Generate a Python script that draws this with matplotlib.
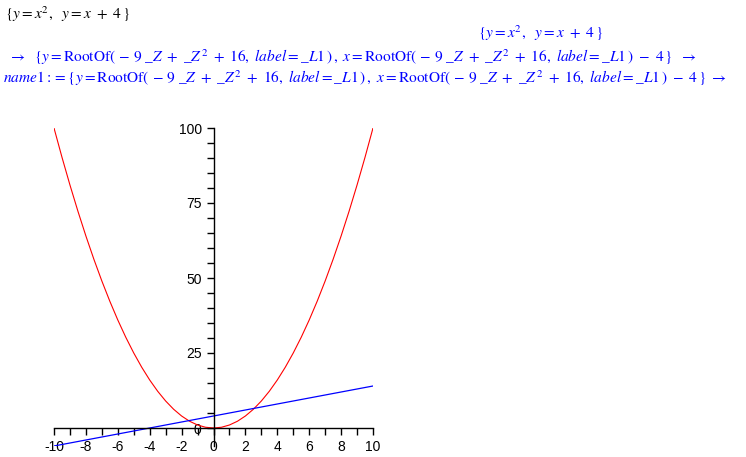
import matplotlib.pyplot as plt
import numpy as np

plt.rcParams['axes.unicode_minus'] = False
plt.rcParams['mathtext.fontset'] = 'stix'

# curve samples
parab_x = [-10, -9.5, -9, -8.5, -8, -7.5, -7, -6.5, -6, -5.5, -5, -4.5, -4, -3.5, -3,
           -2.5, -2, -1.5, -1, -0.5, 0, 0.5, 1, 1.5, 2, 2.5, 3, 3.5, 4, 4.5, 5,
           5.5, 6, 6.5, 7, 7.5, 8, 8.5, 9, 9.5, 10]
parab_y = [100, 90.25, 81, 72.25, 64, 56.25, 49, 42.25, 36, 30.25, 25, 20.25, 16, 12.25, 9,
           6.25, 4, 2.25, 1, 0.25, 0, 0.25, 1, 2.25, 4, 6.25, 9, 12.25, 16, 20.25, 25,
           30.25, 36, 42.25, 49, 56.25, 64, 72.25, 81, 90.25, 100]
line_x = [-10, -5, 0, 5, 10]
line_y = [-6, -1, 4, 9, 14]

xticks = [-10, -8, -6, -4, -2, 0, 2, 4, 6, 8, 10]
yticks = [0, 25, 50, 75, 100]

W, H = 746, 457
fig = plt.figure(figsize=(W / 100, H / 100), dpi=100)

# worksheet text lines (Maple output)
eq1 = r'$\{y = x^{2},\ \ y = x\ +\ 4\,\}$'
root = r'\mathrm{RootOf}(\,-\,9\ \_Z\ +\ \_Z^{2}\ +\ 16,\ \mathit{label} = \_\mathit{L1}\,)'
sol = r'\{y = ' + root + r'\,,\ x = ' + root + r'\ -\ 4\,\}'
fs = 11.1

fig.text(5 / W, 1 - 14 / H, eq1, fontsize=fs, color='black', va='center')
fig.text(540 / W, 1 - 33 / H, eq1, fontsize=fs, color='#0000ff', va='center', ha='center')
fig.text(8 / W, 1 - 57 / H, r'$\rightarrow\ \ ' + sol + r'\ \ \rightarrow$',
         fontsize=fs, color='#0000ff', va='center')
fig.text(3 / W, 1 - 78 / H, r'$\mathit{name1} := ' + sol + r'\ \rightarrow$',
         fontsize=fs, color='#0000ff', va='center')

# plot region: x -10..10 -> px 54..373, y -6..100 -> px 446..128
ax = fig.add_axes([54 / W, 1 - 446 / H, (373 - 54) / W, (446 - 128) / H])
ax.plot(parab_x, parab_y, color='#ff0000', lw=0.8)
ax.plot(line_x, line_y, color='#0000ff', lw=0.9)
ax.set_xlim(-10, 10)
ax.set_ylim(-6, 100)

for s in ['top', 'right']:
    ax.spines[s].set_visible(False)
ax.spines['left'].set_position(('data', 0))
ax.spines['bottom'].set_position(('data', 0))
ax.spines['left'].set_linewidth(1)
ax.spines['bottom'].set_linewidth(1)

ax.set_xticks(xticks)
ax.set_xticks(np.arange(-10, 11, 1), minor=True)
ax.set_yticks(yticks)
ax.set_yticks(np.arange(0, 101, 5), minor=True)
ax.tick_params(which='both', length=5, width=1, direction='out', labelsize=10,
               labelfontfamily='Liberation Sans')
ax.patch.set_visible(False)

fig.savefig('out.png', dpi=100)
